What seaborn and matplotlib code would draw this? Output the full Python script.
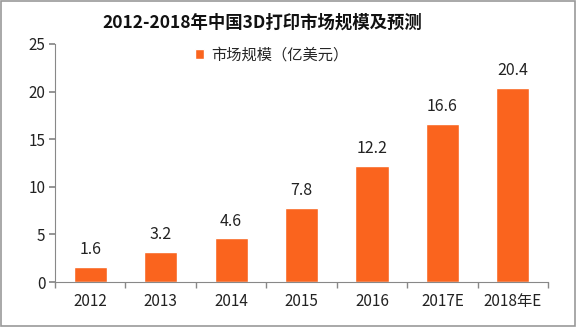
import matplotlib
matplotlib.use("Agg")
import matplotlib.pyplot as plt
import seaborn as sns
import pandas as pd
import numpy as np
from matplotlib.patches import Rectangle

years = ["2012", "2013", "2014", "2015", "2016", "2017E", "2018年E"]
values = [1.6, 3.2, 4.6, 7.8, 12.2, 16.6, 20.4]
series_name = "市场规模（亿美元）"
title = "2012-2018年中国3D打印市场规模及预测"

sns.set_theme(style="white")
plt.rcParams['font.family'] = ['Noto Sans CJK SC', 'DejaVu Sans']

df = pd.DataFrame({"year": years, "value": values})

fig = plt.figure(figsize=(5.76, 3.27), dpi=100)
ax = fig.add_axes([0.0955, 0.1376, 0.856, 0.728])
color = "#FA641E"
sns.barplot(data=df, x="year", y="value", color=color, width=0.47,
            saturation=1, ax=ax, label=series_name)

for i, v in enumerate(values):
    ax.text(i, v + 0.9, f"{v}", ha="center", va="bottom", fontsize=11.5, color="#222222")

ax.set_ylim(0, 25)
ax.set_yticks([0, 5, 10, 15, 20, 25])
ax.set_xlim(-0.5, len(years) - 0.5)
ax.set_xlabel("")
ax.set_ylabel("")
for s in ["top", "right"]:
    ax.spines[s].set_visible(False)
for s in ["left", "bottom"]:
    ax.spines[s].set_color("#888888")
    ax.spines[s].set_linewidth(0.8)
ax.tick_params(axis="y", which="major", left=True, length=4, color="#888888",
               labelsize=11, labelcolor="#222222", pad=3)
ax.tick_params(axis="x", which="major", bottom=False, length=0,
               labelsize=11, labelcolor="#222222", pad=8)
ax.set_xticks(np.arange(-0.5, len(years), 1.0), minor=True)
ax.tick_params(axis="x", which="minor", bottom=True, length=4, color="#888888")

leg = ax.legend(loc="center", bbox_to_anchor=(0.44, 0.955), frameon=False,
                fontsize=11, handlelength=0.6, handleheight=0.6, handletextpad=0.5)

fig.text(0.455, 0.93, title, ha="center", va="center", fontsize=12.5, fontweight="bold",
         color="#111111")

fig.patches.append(Rectangle((0.002, 0.003), 0.996, 0.994, transform=fig.transFigure,
                             fill=False, edgecolor="#999999", linewidth=1.2))

fig.savefig("out.png", dpi=100)
